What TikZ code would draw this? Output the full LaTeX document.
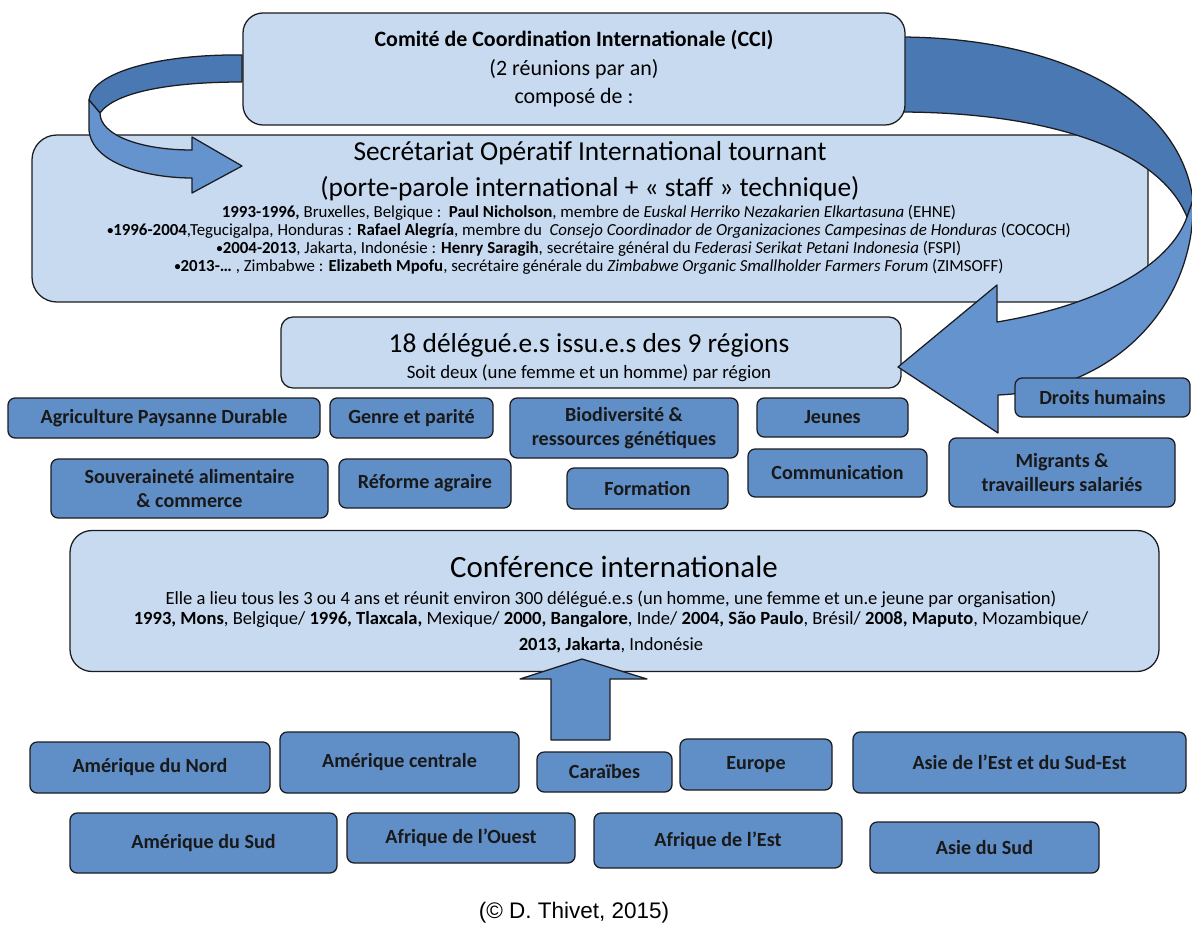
\documentclass[tikz,border=0pt]{standalone}
\usepackage{fontspec}
\setmainfont{Carlito}
\newfontfamily\footfont{Liberation Sans}
\usepackage{tikz}
\usetikzlibrary{positioning}
\definecolor{boxlight}{RGB}{200,218,240}
\definecolor{boxdark}{RGB}{96,142,199}
\definecolor{arrowback}{RGB}{74,120,178}
\definecolor{arrowfront}{RGB}{100,147,206}
\definecolor{edge}{RGB}{28,28,32}
\newcommand{\puce}{\raisebox{0.12ex}{\scalebox{0.72}{•}}}

\begin{document}
\begin{tikzpicture}[x=0.025cm, y=-0.025cm,
  lightbox/.style={draw=edge, line width=0.9pt, fill=boxlight, rounded corners=#1,
    inner sep=0pt, align=center},
  lightbox/.default=0.3cm,
  darkbox/.style={draw=edge, line width=0.9pt, fill=boxdark, rounded corners=0.18cm,
    inner sep=0pt, align=center, text=black!90,
    font=\fontsize{14.3}{17.5}\selectfont\bfseries},
  ribbon/.style={draw=edge, line width=0.9pt, line join=round}]
  \useasboundingbox (0,0) rectangle (1192,926);

  % secretariat
  \node[lightbox=0.62cm, minimum width=1116*0.025cm, minimum height=167*0.025cm]
    (secretariat) at (590,218.5) {};
  \node[font=\fontsize{19.5}{25.5}\selectfont, align=center] (sectitre) at (590,171)
    {Secrétariat Opératif International tournant\\(porte-parole international + « staff » technique)};
  \node[font=\fontsize{12}{12.75}\selectfont, align=center] (secliste) at (589,240)
    {\textbf{1993-1996,} Bruxelles, Belgique :\ \ \textbf{Paul Nicholson}, membre de \textit{Euskal Herriko Nezakarien Elkartasuna} (EHNE)\\
     \textbf{\puce1996-2004},Tegucigalpa, Honduras : \textbf{Rafael Alegría}, membre du\ \ \textit{Consejo Coordinador de Organizaciones Campesinas de Honduras} (COCOCH)\\
     \textbf{\puce2004-2013}, Jakarta, Indonésie : \textbf{Henry Saragih}, secrétaire général du \textit{Federasi Serikat Petani Indonesia} (FSPI)\\
     \textbf{\puce2013-…} , Zimbabwe : \textbf{Elizabeth Mpofu}, secrétaire générale du \textit{Zimbabwe Organic Smallholder Farmers Forum} (ZIMSOFF)};

  % delegues
  \node[lightbox, minimum width=620*0.025cm, minimum height=71*0.025cm]
    (delegues) at (591,352.5) {};
  \node[font=\fontsize{19.5}{23}\selectfont] (deltitre) at (589,345)
    {18 délégué.e.s issu.e.s des 9 régions};
  \node[font=\fontsize{13.4}{15}\selectfont] (delsous) at (589,373)
    {Soit deux (une femme et un homme) par région};

  % big ribbon arrow
  \fill[arrowback, ribbon] (898,37) .. controls (1060,37) and (1180,100) .. (1193,200)
    -- (1187,217) .. controls (1160,150) and (1050,112) .. (898,112) -- cycle;
  \fill[arrowfront, ribbon] (1193,200) .. controls (1196,300) and (1120,390) .. (998,395)
    -- (998,433) -- (898,367) -- (997,285) -- (997,322)
    .. controls (1100,305) and (1170,265) .. (1187,217) -- cycle;

  % small ribbon arrow
  \fill[arrowback, ribbon] (242,55) .. controls (160,54) and (92,72) .. (89,100)
    -- (100,113) .. controls (115,92) and (170,82) .. (242,82) -- cycle;
  \fill[arrowfront, ribbon] (89,100) -- (89,130) .. controls (92,165) and (150,178) .. (192,178)
    -- (192,193) -- (242,166) -- (192,137) -- (192,150)
    .. controls (140,150) and (100,135) .. (100,113) -- cycle;

  \node[lightbox=0.5cm, minimum width=662*0.025cm, minimum height=112*0.025cm,
    font=\fontsize{15.6}{20.2}\selectfont] (cci) at (574,69)
    {\textbf{Comité de Coordination Internationale (CCI)}\\(2 réunions par an)\\composé de :};

  % commissions
  \foreach \nm/\cx/\cy/\w/\h/\txt in {
      agri/164/418/312/40/{Agriculture Paysanne Durable},
      genre/411.5/418/163/40/{Genre et parité},
      biodiv/624/428/228/60/{Biodiversité \&\\ressources génétiques},
      jeunes/832.5/417.5/151/39/{Jeunes},
      droits/1102.5/397.5/175/39/{Droits humains},
      souv/189.5/488.5/277/59/{Souveraineté alimentaire\\\& commerce},
      reforme/425/483.5/172/49/{Réforme agraire},
      formation/647.5/488.5/161/41/{Formation},
      comm/837.5/473/179/48/{Communication},
      migrants/1062/472.5/226/69/{Migrants \&\\travailleurs salariés}}
    \node[darkbox, minimum width=\w*0.025cm, minimum height=\h*0.025cm] (\nm) at (\cx,\cy) {\txt};

  % conference
  \node[lightbox=0.55cm, minimum width=1089*0.025cm, minimum height=141*0.025cm]
    (conference) at (614.5,601) {};
  \node[font=\fontsize{22}{26}\selectfont] (conftitre) at (614,567) {Conférence internationale};
  \node[font=\fontsize{13.2}{14.2}\selectfont, align=center] (confliste) at (611,622)
    {Elle a lieu tous les 3 ou 4 ans et réunit environ 300 délégué.e.s (un homme, une femme et un.e jeune par organisation)\\
     \textbf{1993, Mons}, Belgique/ \textbf{1996, Tlaxcala,} Mexique/ \textbf{2000, Bangalore}, Inde/ \textbf{2004, São Paulo}, Brésil/ \textbf{2008, Maputo}, Mozambique/\\[4pt]
     \textbf{2013, Jakarta}, Indonésie};

  \fill[boxdark, ribbon] (551,740) -- (551,679) -- (520,679) -- (582,659) -- (647,679)
    -- (610,679) -- (610,740) -- cycle;

  % regions
  \foreach \nm/\cx/\cy/\w/\h/\txt in {
      nord/150/767.5/240/51/{Amérique du Nord},
      centrale/399.5/762.5/239/61/{Amérique centrale},
      caraibes/604.5/772/135/40/{Caraïbes},
      europe/756/764.5/152/51/{Europe},
      asieest/1019.5/762.5/333/61/{Asie de l’Est et du Sud-Est},
      sud/203.5/843/267/60/{Amérique du Sud},
      ouest/461/838/228/50/{Afrique de l’Ouest},
      est/718/840.5/248/55/{Afrique de l’Est},
      asiesud/984.5/847.5/229/51/{Asie du Sud}}
    \node[darkbox, minimum width=\w*0.025cm, minimum height=\h*0.025cm] (\nm) at (\cx,\cy) {\txt};

  \node[font=\footfont\fontsize{16}{19}\selectfont] (source) at (574,913) {(© D. Thivet, 2015)};
\end{tikzpicture}
\end{document}
